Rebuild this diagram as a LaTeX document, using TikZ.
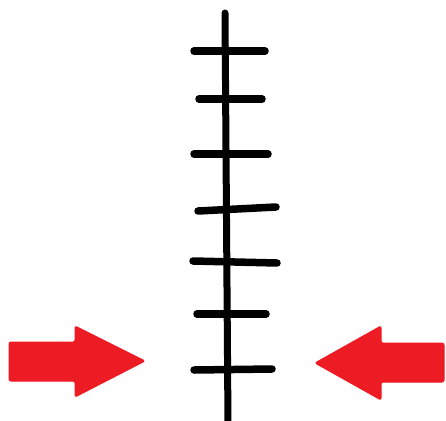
\documentclass[tikz,border=0pt]{standalone}
\usepackage{xcolor}
\usepackage{tikz}
\usetikzlibrary{positioning,calc}

\definecolor{paintred}{RGB}{237,28,36}

\begin{document}
\begin{tikzpicture}[
  x=1pt, y=-1pt,
  scaleline/.style={draw=black, line width=7pt, line cap=round},
  tickmark/.style={draw=black, line width=7.5pt, line cap=round},
  redarrow/.style={fill=paintred, draw=paintred, line width=1pt, rounded corners=2pt, line join=round}
]
\useasboundingbox (0,0) rectangle (446,420);

% --- Vertical scale ---
\coordinate (top) at (225,13);
\coordinate (bottom) at (228,425);
\draw[scaleline] (top) -- (bottom);

% --- Tick marks: y / left / right ---
\foreach \ty/\tl/\tr/\tt in {51/194/265/0, 99/199/262/0, 154/194/268/0,
                              211/198/276/-4, 261/193/277/2, 314/197/266/0, 370/194/272/-1}{
  \draw[tickmark] (\tl,\ty) -- (\tr,\ty+\tt);
}

% --- Left arrow (pointing right) ---
\draw[redarrow] (9,342) -- (75,342) -- (75,326) -- (145,361)
  -- (75,397) -- (75,381) -- (9,381) -- cycle;

% --- Right arrow (pointing left) ---
\draw[redarrow] (444,343) -- (381,343) -- (381,326) -- (315,363)
  -- (381,400) -- (381,382) -- (444,382) -- cycle;

\end{tikzpicture}
\end{document}
